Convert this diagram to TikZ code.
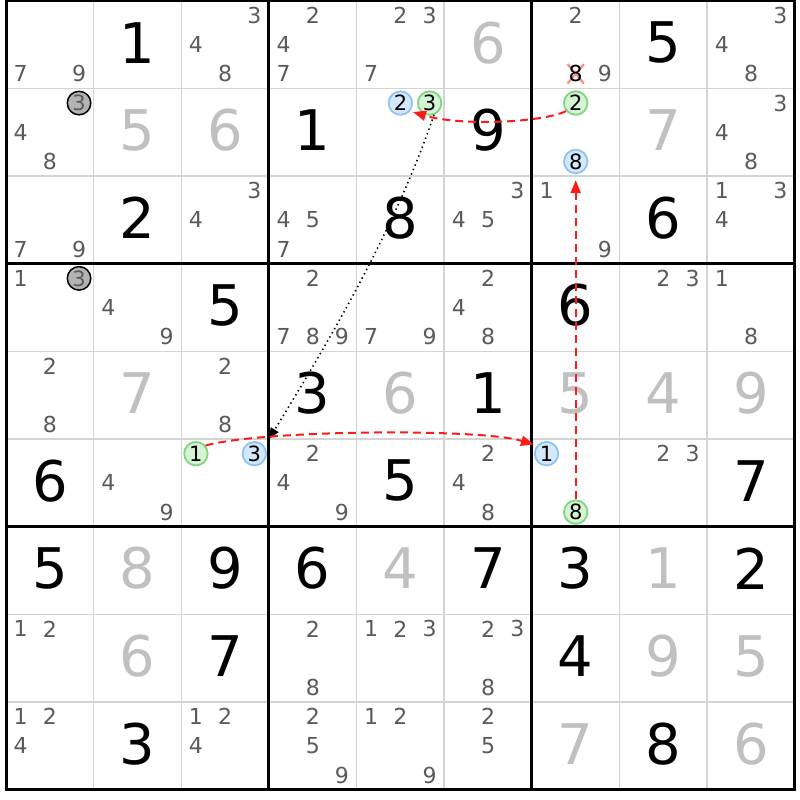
\documentclass[tikz,border=0pt]{standalone}
\usepackage{fontspec}
\setmainfont{DejaVu Sans}
\usetikzlibrary{arrows.meta}
\definecolor{candgray}{HTML}{5A5A5A}
\definecolor{solvgray}{HTML}{C0C0C0}
\definecolor{thingrid}{HTML}{D4D4D4}
\definecolor{bluefill}{HTML}{D3E8FB}
\definecolor{bluedraw}{HTML}{8EC3F2}
\definecolor{greenfill}{HTML}{D6F3D6}
\definecolor{greendraw}{HTML}{7ED67E}
\definecolor{grayfill}{HTML}{B3B3B3}
\definecolor{linkred}{HTML}{FF1A1A}
\definecolor{xred}{HTML}{F29090}
\pgfdeclarelayer{bg}
\pgfsetlayers{bg,main}
\newcommand\SVal[4]{\node[#4] (v#1#2) at ({6+(#2-0.5)*87.65},{0.8+(#1-0.5)*87.65-2}) {#3};}
\newcommand\SCand[4]{%
  \pgfmathtruncatemacro\SCc{mod(#3-1,3)}%
  \pgfmathtruncatemacro\SCr{div(#3-1,3)}%
  \node[#4] (p#1#2#3) at ({6+(#2-1)*87.65+(2*\SCc+1)*87.65/6},{0.8+(#1-1)*87.65+(2*\SCr+1)*87.65/6}) {#3};}
\newcommand\SCands[3]{\foreach \k in {#3}{\SCand{#1}{#2}{\k}{cand}}}
\tikzset{
  big/.style={inner sep=0pt, font=\fontsize{56}{56}\selectfont},
  given/.style={big, text=black},
  solved/.style={big, text=solvgray},
  cand/.style={inner sep=0pt, text=candgray, font=\fontsize{22}{22}\selectfont},
  ccirc/.style={circle, line width=1.8pt, minimum size=23.5pt, inner sep=0pt, text=black, font=\fontsize{21}{21}\selectfont},
  bluec/.style={ccirc, fill=bluefill, draw=bluedraw},
  greenc/.style={ccirc, fill=greenfill, draw=greendraw},
  grayc/.style={ccirc, fill=grayfill, draw=black, line width=1.5pt, text=candgray},
  xmark/.style={xred, line width=2.2pt, shorten <=-1.5pt, shorten >=-1.5pt},
  link/.style={linkred, line width=2pt, dash pattern=on 8pt off 5pt, shorten >=3pt, -{Triangle[length=13pt,width=10pt]}},
  dotlink/.style={black, line width=1.6pt, dash pattern=on 1.4pt off 3.4pt, -{Triangle[length=11pt,width=9pt]}},
}
\begin{document}
\begin{tikzpicture}[x=1pt,y=-1pt]
\begin{pgfonlayer}{bg}
\fill[white] (0,0) rectangle (800,800);
\end{pgfonlayer}
\useasboundingbox (0,0) rectangle (800,800);
% grid
\foreach \i in {1,2,4,5,7,8}{
  \draw[thingrid, line width=1.6pt] ({6+\i*87.65},0.8) -- ({6+\i*87.65},{0.8+9*87.65});
  \draw[thingrid, line width=1.6pt] (6,{0.8+\i*87.65}) -- ({6+9*87.65},{0.8+\i*87.65});
}
\foreach \i in {0,3,6,9}{
  \draw[black, line width=3pt] ({6+\i*87.65},-0.7) -- ({6+\i*87.65},{2.3+9*87.65});
  \draw[black, line width=3pt] (4.5,{0.8+\i*87.65}) -- ({7.5+9*87.65},{0.8+\i*87.65});
}
% values
\SVal{1}{2}{1}{given} \SVal{1}{6}{6}{solved} \SVal{1}{8}{5}{given}
\SVal{2}{2}{5}{solved} \SVal{2}{3}{6}{solved} \SVal{2}{4}{1}{given} \SVal{2}{6}{9}{given} \SVal{2}{8}{7}{solved}
\SVal{3}{2}{2}{given} \SVal{3}{5}{8}{given} \SVal{3}{8}{6}{given}
\SVal{4}{3}{5}{given} \SVal{4}{7}{6}{given}
\SVal{5}{2}{7}{solved} \SVal{5}{4}{3}{given} \SVal{5}{5}{6}{solved} \SVal{5}{6}{1}{given} \SVal{5}{7}{5}{solved} \SVal{5}{8}{4}{solved} \SVal{5}{9}{9}{solved}
\SVal{6}{1}{6}{given} \SVal{6}{5}{5}{given} \SVal{6}{9}{7}{given}
\SVal{7}{1}{5}{given} \SVal{7}{2}{8}{solved} \SVal{7}{3}{9}{given} \SVal{7}{4}{6}{given} \SVal{7}{5}{4}{solved} \SVal{7}{6}{7}{given} \SVal{7}{7}{3}{given} \SVal{7}{8}{1}{solved} \SVal{7}{9}{2}{given}
\SVal{8}{2}{6}{solved} \SVal{8}{3}{7}{given} \SVal{8}{7}{4}{given} \SVal{8}{8}{9}{solved} \SVal{8}{9}{5}{solved}
\SVal{9}{2}{3}{given} \SVal{9}{7}{7}{solved} \SVal{9}{8}{8}{given} \SVal{9}{9}{6}{solved}
% candidates
\SCands{1}{1}{7,9} \SCands{1}{3}{3,4,8} \SCands{1}{4}{2,4,7} \SCands{1}{5}{2,3,7} \SCands{1}{7}{2,9} \SCands{1}{9}{3,4,8}
\SCand{1}{7}{8}{cand, text=black}
\SCands{2}{1}{4,8} \SCand{2}{1}{3}{grayc}
\SCand{2}{5}{2}{bluec} \SCand{2}{5}{3}{greenc}
\SCand{2}{7}{2}{greenc} \SCand{2}{7}{8}{bluec}
\SCands{2}{9}{3,4,8}
\SCands{3}{1}{7,9} \SCands{3}{3}{3,4} \SCands{3}{4}{4,5,7} \SCands{3}{6}{3,4,5} \SCands{3}{7}{1,9} \SCands{3}{9}{1,3,4}
\SCands{4}{1}{1} \SCand{4}{1}{3}{grayc}
\SCands{4}{2}{4,9} \SCands{4}{4}{2,7,8,9} \SCands{4}{5}{7,9} \SCands{4}{6}{2,4,8} \SCands{4}{8}{2,3} \SCands{4}{9}{1,8}
\SCands{5}{1}{2,8} \SCands{5}{3}{2,8}
\SCands{6}{2}{4,9} \SCand{6}{3}{1}{greenc} \SCand{6}{3}{3}{bluec}
\SCands{6}{4}{2,4,9} \SCands{6}{6}{2,4,8}
\SCand{6}{7}{1}{bluec} \SCand{6}{7}{8}{greenc}
\SCands{6}{8}{2,3}
\SCands{8}{1}{1,2} \SCands{8}{4}{2,8} \SCands{8}{5}{1,2,3} \SCands{8}{6}{2,3,8}
\SCands{9}{1}{1,2,4} \SCands{9}{3}{1,2,4} \SCands{9}{4}{2,5,9} \SCands{9}{5}{1,2,9} \SCands{9}{6}{2,5}
% eliminated candidate mark
\begin{pgfonlayer}{bg}
\draw[xmark] (p178.north west) -- (p178.south east);
\draw[xmark] (p178.north east) -- (p178.south west);
\end{pgfonlayer}
% links
\coordinate (dotend) at ({6+3*87.65},{0.8+5*87.65});
\draw[dotlink] (p253.-70) .. controls (395,229) and (331,338) .. (dotend);
\draw[link] (p272.220) .. controls (540,123) and (460,126) .. (p252.-40);
\draw[link] (p631.40) .. controls (260,430) and (480,428) .. (p671.140);
\draw[link, shorten >=6pt] (p678) -- (p278);
\end{tikzpicture}
\end{document}
